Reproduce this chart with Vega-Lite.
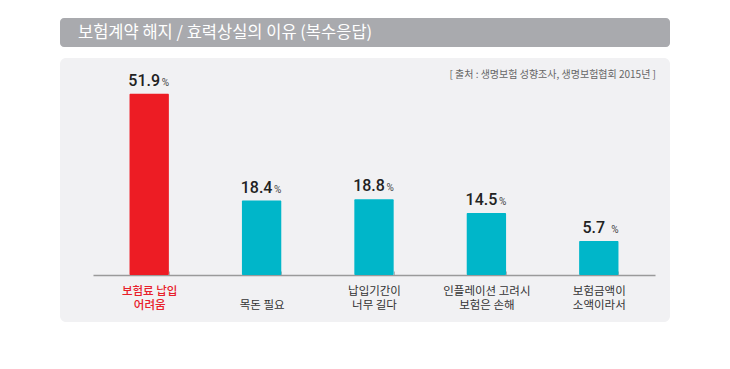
{
  "$schema": "https://vega.github.io/schema/vega-lite/v6.json",
  "background": "white",
  "padding": {"left": 60, "top": 18, "right": 60, "bottom": 0},
  "spacing": 11,
  "config": {"view": {"stroke": null}, "font": "Noto Sans CJK KR"},
  "vconcat": [
    {
      "width": 610,
      "height": 29,
      "view": {"fill": "#A9AAAE", "stroke": null, "cornerRadius": 4},
      "data": {"values": [{"t": "보험계약 해지 / 효력상실의 이유 (복수응답)"}]},
      "mark": {"type": "text", "align": "left", "baseline": "middle", "color": "white", "fontSize": 16.5, "font": "Noto Sans CJK KR"},
      "encoding": {
        "text": {"field": "t"},
        "x": {"value": 18},
        "y": {"value": 15}
      }
    },
    {
      "width": 610,
      "height": 264,
      "view": {"fill": "#F1F1F3", "stroke": null, "cornerRadius": 6},
      "data": {"values": [
        {"reason": "보험료 납입|어려움", "value": 51.9},
        {"reason": "목돈 필요", "value": 18.4},
        {"reason": "납입기간이|너무 길다", "value": 18.8},
        {"reason": "인플레이션 고려시|보험은 손해", "value": 14.5},
        {"reason": "보험금액이|소액이라서", "value": 5.7}
      ]},
      "encoding": {
        "x": {
          "field": "reason", "type": "nominal", "sort": null,
          "scale": {"range": [33, 595], "paddingInner": 0.65, "paddingOuter": 0.325},
          "axis": {
            "title": null,
            "offset": -47,
            "domainColor": "#9a9a9a",
            "domainWidth": 1.5,
            "tickBand": "extent",
            "tickColor": "#b4b4b4",
            "tickWidth": 1,
            "tickSize": -4,
            "labelAngle": 0,
            "labelBaseline": "middle",
            "labelPadding": 20,
            "labelFont": "Noto Sans CJK KR",
            "labelFontSize": 11.5,
            "labelLineHeight": 14,
            "labelExpr": "indexof(datum.label, '|') >= 0 ? split(datum.label, '|') : split('|' + datum.label, '|')",
            "labelColor": {"condition": {"test": "datum.value == '보험료 납입|어려움'", "value": "#E8202A"}, "value": "#333333"},
            "labelFontWeight": {"condition": {"test": "datum.value == '보험료 납입|어려움'", "value": 500}, "value": 400}
          }
        },
        "y": {
          "field": "value", "type": "quantitative",
          "scale": {"domain": [-5, 55], "range": [217, 26], "zero": false, "nice": false},
          "axis": null
        }
      },
      "layer": [
        {
          "mark": {"type": "bar", "cornerRadius": 1},
          "encoding": {
            "y2": {"datum": -5},
            "color": {"condition": {"test": "datum.reason == '보험료 납입|어려움'", "value": "#ED1C24"}, "value": "#00B6C9"}
          }
        },
        {
          "mark": {"type": "text", "align": "center", "baseline": "bottom", "dx": -5, "dy": -5, "font": "Roboto", "fontWeight": 500, "fontSize": 16, "color": "#222222"},
          "encoding": {"text": {"field": "value", "type": "quantitative", "format": ".1f"}}
        },
        {
          "mark": {"type": "text", "align": "left", "baseline": "bottom", "dx": 12.5, "dy": -6, "font": "Roboto", "fontSize": 10, "color": "#444444"},
          "encoding": {"text": {"value": "%"}}
        },
        {
          "data": {"values": [{"src": "[ 출처 : 생명보험 성향조사, 생명보험협회 2015년 ]"}]},
          "mark": {"type": "text", "align": "right", "baseline": "middle", "fontSize": 10, "color": "#666666", "font": "Noto Sans CJK KR"},
          "encoding": {
            "text": {"field": "src"},
            "x": {"value": 596},
            "y": {"value": 17}
          }
        }
      ]
    }
  ]
}
